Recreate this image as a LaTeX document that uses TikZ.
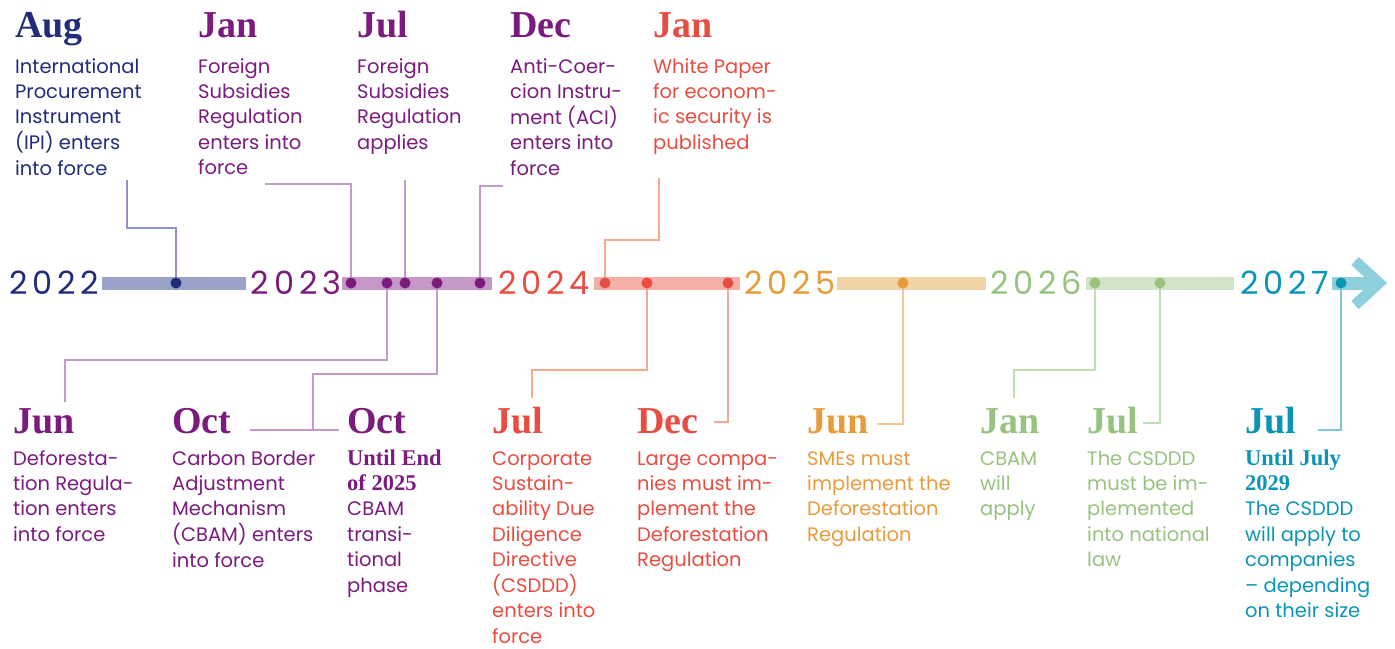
\documentclass[tikz,border=0pt]{standalone}
\usepackage{fontspec}
\setmainfont{Poppins}
\newfontfamily\bodyfam{Poppins}
\newfontfamily\yearfam[LetterSpace=15]{Poppins}
\newfontfamily\serifbold{Liberation Serif Bold}
\newcommand\bodyfont{\bodyfam\fontsize{19.5}{25.4}\selectfont}
\newcommand\headfont{\serifbold\fontsize{38}{40}\selectfont}
\newcommand\subfont{\serifbold\fontsize{22.5}{25.4}\selectfont}
\newcommand\yearfont{\yearfam\fontsize{32}{33}\selectfont}
\newcommand\ls[1]{\begin{tabular}[t]{@{}l@{}}#1\end{tabular}}
\definecolor{cNavy}{HTML}{232C7B}
\definecolor{cPurple}{HTML}{7B1B7E}
\definecolor{cRed}{HTML}{E84D41}
\definecolor{cOrange}{HTML}{E79B3A}
\definecolor{cGreen}{HTML}{97C27F}
\definecolor{cTeal}{HTML}{0A95B6}
\definecolor{bNavy}{HTML}{9AA2C8}
\definecolor{bPurple}{HTML}{C598C7}
\definecolor{bRed}{HTML}{F4AFA9}
\definecolor{bOrange}{HTML}{F2D3A8}
\definecolor{bGreen}{HTML}{D2E4C7}
\definecolor{bTeal}{HTML}{8FCFDD}
\definecolor{lNavy}{HTML}{8F92C8}
\definecolor{lPurple}{HTML}{C29ACB}
\definecolor{lRed}{HTML}{F6A98F}
\definecolor{lOrange}{HTML}{F2C89B}
\definecolor{lGreen}{HTML}{C3DDB3}
\definecolor{lTeal}{HTML}{7CC7DC}
\tikzset{
  x=1pt, y=-1pt,
  head/.style={anchor=base west, inner sep=0pt, font=\headfont},
  body/.style={anchor=base west, inner sep=0pt, font=\bodyfont},
  year/.style={anchor=center, inner sep=0pt, font=\yearfont},
  dot/.style={circle, fill=#1, inner sep=0pt, minimum size=11pt},
  link/.style={draw=#1, line width=1.1pt},
  bar/.style={line width=13pt, draw=#1},
}
\begin{document}
\begin{tikzpicture}
\useasboundingbox (0,0) rectangle (1395,648);
% bars
\draw[bar=bNavy] (102,283) -- (246,283);
\draw[bar=bPurple] (342,283) -- (492,283);
\draw[bar=bRed] (594,283) -- (740,283);
\draw[bar=bOrange] (837,283) -- (986,283);
\draw[bar=bGreen] (1086,283) -- (1234,283);
\draw[bar=bTeal] (1332,283) -- (1372,283);
\draw[bTeal, line width=11pt, line join=miter] (1355,261) -- (1379,283) -- (1355,305);
% years
\node[year, text=cNavy] (y22) at (54,283) {2022};
\node[year, text=cPurple] (y23) at (296,283) {2023};
\node[year, text=cRed] (y24) at (544,283) {2024};
\node[year, text=cOrange] (y25) at (790,283) {2025};
\node[year, text=cGreen] (y26) at (1036,283) {2026};
\node[year, text=cTeal] (y27) at (1285,283) {2027};
% dot positions
\coordinate (p1) at (176,283);
\coordinate (p2) at (351,283);
\coordinate (p3) at (387,283);
\coordinate (p4) at (405,283);
\coordinate (p5) at (437,283);
\coordinate (p6) at (480,283);
\coordinate (p7) at (605,283);
\coordinate (p8) at (647,283);
\coordinate (p9) at (728,283);
\coordinate (p10) at (903,283);
\coordinate (p11) at (1095,283);
\coordinate (p12) at (1160,283);
\coordinate (p13) at (1341,283);
% connector ends
\coordinate (e1) at (127,180);
\coordinate (e2) at (265,184);
\coordinate (e4) at (405,180);
\coordinate (e6) at (503,186);
\coordinate (e7) at (659,178);
\coordinate (e3) at (65,402);
\coordinate (e5) at (313,430);
\coordinate (e5a) at (250,430);
\coordinate (e5b) at (339,430);
\coordinate (e8) at (532,398);
\coordinate (e9) at (714,422);
\coordinate (e10) at (877,424);
\coordinate (e11) at (1014,398);
\coordinate (e12) at (1143,423);
\coordinate (e13) at (1318,430);
% connectors
\draw[link=lNavy] (p1) -- (p1 |- 0,228) -| (e1);
\draw[link=lPurple] (p2) |- (e2);
\draw[link=lPurple] (p4) -- (e4);
\draw[link=lPurple] (p6) |- (e6);
\draw[link=lRed] (p7) -- (p7 |- 0,240) -| (e7);
\draw[link=lPurple] (p3) -- (p3 |- 0,360) -| (e3);
\draw[link=lPurple] (p5) -- (p5 |- 0,374) -| (e5);
\draw[link=lPurple] (e5a) -- (e5b);
\draw[link=lRed] (p8) -- (p8 |- 0,370) -| (e8);
\draw[link=lRed] (p9) |- (e9);
\draw[link=lOrange] (p10) |- (e10);
\draw[link=lGreen] (p11) -- (p11 |- 0,370) -| (e11);
\draw[link=lGreen] (p12) |- (e12);
\draw[link=lTeal] (p13) |- (e13);
% dots
\node[dot=cNavy] (d1) at (p1) {};
\node[dot=cPurple] (d2) at (p2) {};
\node[dot=cPurple] (d3) at (p3) {};
\node[dot=cPurple] (d4) at (p4) {};
\node[dot=cPurple] (d5) at (p5) {};
\node[dot=cPurple] (d6) at (p6) {};
\node[dot=cRed] (d7) at (p7) {};
\node[dot=cRed] (d8) at (p8) {};
\node[dot=cRed] (d9) at (p9) {};
\node[dot=cOrange] (d10) at (p10) {};
\node[dot=cGreen] (d11) at (p11) {};
\node[dot=cGreen] (d12) at (p12) {};
\node[dot=cTeal] (d13) at (p13) {};
% top texts
\node[head, text=cNavy] (h1) at (15,37) {Aug};
\node[body, text=cNavy] (t1) at (15,73) {\ls{International\\Procurement\\Instrument\\(IPI) enters\\into force}};
\node[head, text=cPurple] (h2) at (198,37) {Jan};
\node[body, text=cPurple] (t2) at (198,73) {\ls{Foreign\\Subsidies\\Regulation\\enters into\\force}};
\node[head, text=cPurple] (h4) at (357,37) {Jul};
\node[body, text=cPurple] (t4) at (357,73) {\ls{Foreign\\Subsidies\\Regulation\\applies}};
\node[head, text=cPurple] (h6) at (510,37) {Dec};
\node[body, text=cPurple] (t6) at (510,73) {\ls{Anti-Coer-\\cion Instru-\\ment (ACI)\\enters into\\force}};
\node[head, text=cRed] (h7) at (653,37) {Jan};
\node[body, text=cRed] (t7) at (653,73) {\ls{White Paper\\for econom-\\ic security is\\published}};
% bottom texts
\node[head, text=cPurple] (h3) at (13,433) {Jun};
\node[body, text=cPurple] (t3) at (13,465) {\ls{Deforesta-\\tion Regula-\\tion enters\\into force}};
\node[head, text=cPurple] (h5) at (172,433) {Oct};
\node[body, text=cPurple] (t5) at (172,465) {\ls{Carbon Border\\Adjustment\\Mechanism\\(CBAM) enters\\into force}};
\node[head, text=cPurple] (h5b) at (347,433) {Oct};
\node[body, text=cPurple] (t5b) at (347,465) {\ls{{\subfont Until End}\\{\subfont of 2025}\\CBAM\\transi-\\tional\\phase}};
\node[head, text=cRed] (h8) at (492,433) {Jul};
\node[body, text=cRed] (t8) at (492,465) {\ls{Corporate\\Sustain-\\ability Due\\Diligence\\Directive\\(CSDDD)\\enters into\\force}};
\node[head, text=cRed] (h9) at (637,433) {Dec};
\node[body, text=cRed] (t9) at (637,465) {\ls{Large compa-\\nies must im-\\plement the\\Deforestation\\Regulation}};
\node[head, text=cOrange] (h10) at (807,433) {Jun};
\node[body, text=cOrange] (t10) at (807,465) {\ls{SMEs must\\implement the\\Deforestation\\Regulation}};
\node[head, text=cGreen] (h11) at (980,433) {Jan};
\node[body, text=cGreen] (t11) at (980,465) {\ls{CBAM\\will\\apply}};
\node[head, text=cGreen] (h12) at (1087,433) {Jul};
\node[body, text=cGreen] (t12) at (1087,465) {\ls{The CSDDD\\must be im-\\plemented\\into national\\law}};
\node[head, text=cTeal] (h13) at (1245,433) {Jul};
\node[body, text=cTeal] (t13) at (1245,465) {\ls{{\subfont Until July}\\{\subfont 2029}\\The CSDDD\\will apply to\\companies\\– depending\\on their size}};
\end{tikzpicture}
\end{document}
